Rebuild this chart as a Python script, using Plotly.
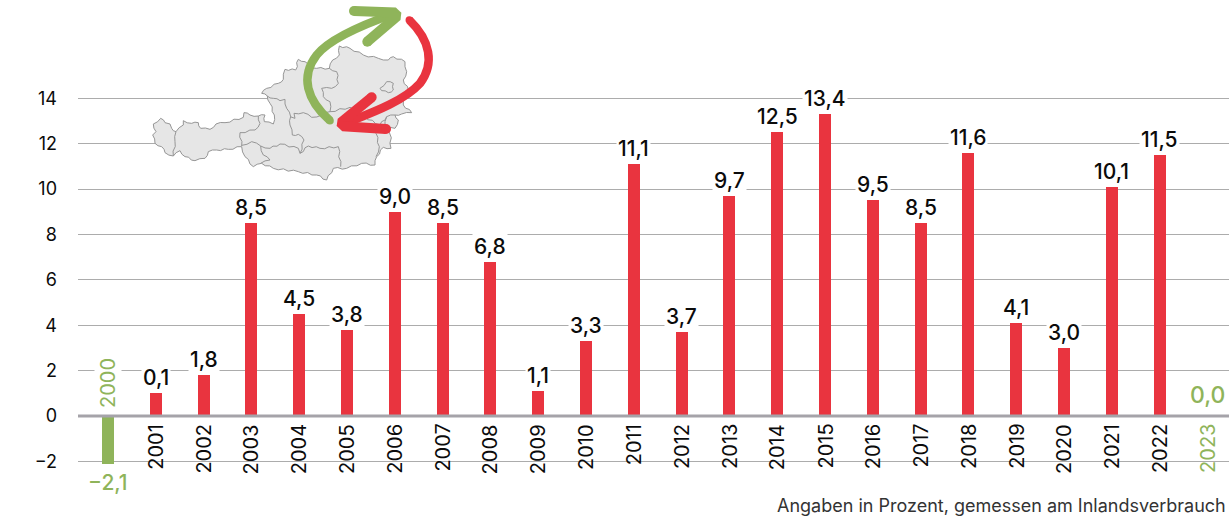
import math
import plotly.graph_objects as go

years = list(range(2000, 2024))
bar_values = [-2.1, 1.0, 1.8, 8.5, 4.5, 3.8, 9.0, 8.5, 6.8, 1.1, 3.3, 11.1, 3.7,
              9.7, 12.5, 13.3, 9.5, 8.5, 11.6, 4.1, 3.0, 10.1, 11.5, 0.0]
value_labels = ["−2,1", "0,1", "1,8", "8,5", "4,5", "3,8", "9,0", "8,5", "6,8", "1,1", "3,3", "11,1",
                "3,7", "9,7", "12,5", "13,4", "9,5", "8,5", "11,6", "4,1", "3,0", "10,1", "11,5", "0,0"]
y_ticks = [-2, 0, 2, 4, 6, 8, 10, 12, 14]
y_tick_labels = ["−2", "0", "2", "4", "6", "8", "10", "12", "14"]
footer = "Angaben in Prozent, gemessen am Inlandsverbrauch"

RED = "#e9343f"
GREEN = "#8fb45a"
GRID = "#acacac"
FONT = "Inter"
W, H, L = 1229, 519, 78
ZERO_PX = 416
X0_PX = 108

# decorative map, in 3x sketch units with origin (130, 0) of the picture
austria = [(70,372),(92,355),(105,368),(120,372),(125,385),(138,395),(160,375),(160,362),(185,370),(205,368),
           (212,385),(240,388),(258,372),(285,368),(340,352),(342,338),(360,345),(385,348),(405,345),(403,365),
           (430,372),(433,345),(420,310),(412,288),(395,280),(410,265),(445,250),(460,238),(465,208),(497,210),
           (505,178),(525,185),(535,198),(560,205),(598,205),(608,180),(628,165),(628,138),(660,145),(700,165),
           (745,175),(775,180),(790,170),(825,185),(830,215),(820,240),(835,270),(815,290),(820,315),(845,338),
           (815,342),(795,345),(805,360),(795,385),(780,382),(783,445),(760,442),(740,470),(735,495),(695,490),
           (650,505),(610,505),(590,540),(560,525),(505,515),(430,505),(395,490),(370,500),(345,470),(335,440),
           (295,448),(260,450),(235,455),(225,475),(195,482),(165,470),(150,452),(130,468),(105,458),(95,440),
           (75,430),(68,405),(78,395)]
borders = [
    [(138,395),(135,425),(130,468)],
    [(335,438),(330,398),(375,390),(390,370),(385,348)],
    [(335,436),(365,425),(392,438),(400,465),(420,480),(392,490)],
    [(392,438),(420,445),(450,432),(505,445),(510,460),(535,438),(570,445),(625,440),(632,500)],
    [(510,460),(522,420),(505,403),(487,405),(480,375),(482,350),(470,325),(465,298),(450,302),(430,295),(412,288)],
    [(480,350),(495,355),(492,340),(520,338),(545,352),(575,345),(600,335)],
    [(598,205),(620,215),(625,250),(605,265),(575,265),(580,290),(600,305),(600,335),(660,322),(690,345),(750,375),(770,350),(795,345)],
    [(770,350),(765,380),(738,400),(748,440),(738,470)],
    [(750,265),(770,245),(790,250),(790,270),(775,278),(755,272),(750,265)],
]

def rough(pts, closed=False):
    # small alternating notches so the decorative borders look hand-drawn
    src = pts + [pts[0]] if closed else pts
    out, sign = [], 1
    for a, b in zip(src, src[1:]):
        out.append(a)
        dx, dy = b[0] - a[0], b[1] - a[1]
        d = math.hypot(dx, dy)
        if d > 16:
            n = int(d // 16)
            for k in range(1, n + 1):
                t = k / (n + 1)
                out.append((a[0] + dx * t - dy / d * 2.5 * sign, a[1] + dy * t + dx / d * 2.5 * sign))
                sign = -sign
    if not closed:
        out.append(src[-1])
    return out

def px(zx, zy):
    return (130 + zx / 3 - L) / (W - L), 1 - (zy / 3) / H

def poly(pts, close=False):
    s = ""
    for i, p in enumerate(pts):
        x, y = px(*p)
        s += f"{'M' if i == 0 else 'L'}{x:.5f},{y:.5f} "
    return s + ("Z" if close else "")

def bez(start, *segs):
    x, y = px(*start)
    s = f"M{x:.5f},{y:.5f} "
    for seg in segs:
        s += "C" + " ".join("%.5f,%.5f" % px(*p) for p in seg) + " "
    return s

shapes = []
shapes.append(dict(type="path", path=poly(rough(austria, True), True), xref="paper", yref="paper", layer="above",
                   fillcolor="#e6e6e6", line=dict(color="#969696", width=1)))
for b in borders:
    shapes.append(dict(type="path", path=poly(rough(b)), xref="paper", yref="paper", layer="above",
                       line=dict(color="#969696", width=1)))

def cap(p, r, color):
    x, y = px(*p)
    rx, ry = r / (W - L), r / H
    return dict(type="circle", xref="paper", yref="paper", layer="above", x0=x - rx, x1=x + rx, y0=y - ry, y1=y + ry,
                fillcolor=color, line=dict(width=0))

def stroke(path, color, w):
    return dict(type="path", path=path, xref="paper", yref="paper", layer="above", line=dict(color=color, width=w))

def arm(tip, end, w, color):
    # arrowhead arm, pointed at the tip and with a rounded far end
    dx, dy = end[0] - tip[0], end[1] - tip[1]
    d = math.hypot(dx, dy)
    nx, ny = -dy / d * w / 2, dx / d * w / 2
    mx, my = tip[0] + dx * 0.12, tip[1] + dy * 0.12
    pts = [tip, (mx + nx, my + ny), (end[0] + nx, end[1] + ny), (end[0] - nx, end[1] - ny), (mx - nx, my - ny)]
    return [dict(type="path", path=poly(pts, True), xref="paper", yref="paper", layer="above",
                 fillcolor=color, line=dict(width=0)), cap(end, w / 6, color)]

GT, RT = (814, 38), (620, 378)
shapes += [
    stroke(bez((600,362), [(530,300),(510,230),(560,165)], [(600,115),(710,70),(790,42)]), GREEN, 8.5),
    cap((600,362), 3.8, GREEN),
    *arm(GT, (672,33), 30, GREEN), *arm(GT, (712,125), 30, GREEN),
    stroke(bez((838,60), [(900,120),(915,190),(870,250)], [(820,305),(720,340),(640,372)]), RED, 8.5),
    cap((838,60), 3.8, RED),
    *arm(RT, (725,292), 30, RED), *arm(RT, (768,387), 30, RED),
]
shapes.append(dict(type="line", xref="paper", yref="y", x0=0, x1=1, y0=0, y1=0, layer="above",
                   line=dict(color="#a5a3a9", width=3)))

colors = [GREEN if v < 0 else RED for v in bar_values]
fig = go.Figure(go.Bar(x=years, y=bar_values, width=0.25, marker=dict(color=colors, line=dict(width=0)),
                       hoverinfo="x+y"))

annotations = []
for yr, v, lab in zip(years, bar_values, value_labels):
    if yr == 2000:
        annotations.append(dict(x=yr, y=v, yanchor="top", yshift=-4, text=lab, showarrow=False,
                                font=dict(family=FONT, size=21, color=GREEN, weight=500)))
        annotations.append(dict(x=yr, y=0, yanchor="bottom", yshift=6, text=str(yr), textangle=-90, showarrow=False,
                                bgcolor="white", font=dict(family=FONT, size=20, color=GREEN)))
        continue
    green = yr == 2023
    annotations.append(dict(x=yr, y=v, yanchor="bottom", yshift=5 if green else 1, text=lab, showarrow=False, bgcolor="white",
                            borderpad=1, font=dict(family=FONT, size=23 if green else 21, color=GREEN if green else "#0b0b0b", weight=500)))
    annotations.append(dict(x=yr, y=0, yanchor="top", yshift=-6, text=str(yr), textangle=-90, showarrow=False,
                            font=dict(family=FONT, size=20, color=GREEN if green else "#0b0b0b")))
annotations.append(dict(xref="paper", yref="paper", x=1, xanchor="right", y=1 - 505 / H, yanchor="middle", xshift=-1,
                        text=footer, showarrow=False, font=dict(family=FONT, size=18, color="#333333")))

fig.update_layout(
    width=W, height=H, margin=dict(l=L, r=0, t=0, b=0), paper_bgcolor="white", plot_bgcolor="white",
    showlegend=False, bargap=0, shapes=shapes, annotations=annotations,
    font=dict(family=FONT, color="#0b0b0b"),
    xaxis=dict(visible=False, range=[2000 - (X0_PX - L) / 47.8, 2000 + (W - X0_PX) / 47.8]),
    yaxis=dict(range=[-(H - ZERO_PX) / 22.7, ZERO_PX / 22.7], tickvals=y_ticks, ticktext=y_tick_labels,
               showgrid=True, gridcolor=GRID, gridwidth=1, zeroline=False, showline=False,
               ticks="", ticklabelstandoff=20, tickfont=dict(family=FONT, size=18, color="#0b0b0b")),
)
fig.write_html("out.html", config=dict(displayModeBar=False),
               post_script="document.body.style.margin='0';document.documentElement.style.overflow='hidden';")
